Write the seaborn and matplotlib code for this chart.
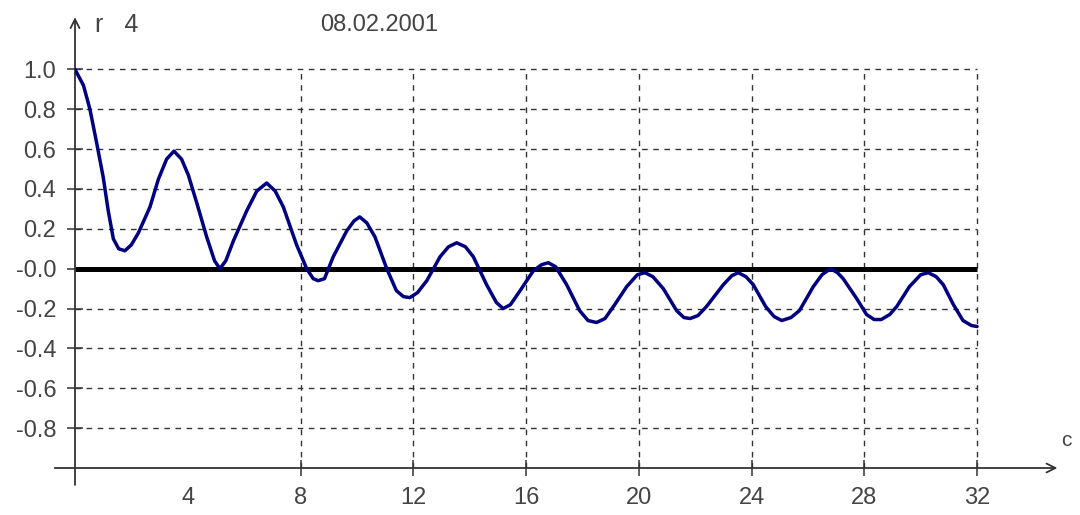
import matplotlib
matplotlib.use("Agg")
import matplotlib.pyplot as plt
import seaborn as sns
import pandas as pd

# Autocorrelation curve r(c)
lag = [0, 0.3, 0.53, 0.77, 1.0, 1.18, 1.36, 1.55, 1.77, 2.0, 2.25, 2.66, 2.96, 3.25,
       3.51, 3.78, 4.02, 4.32, 4.67, 4.95, 5.14, 5.35, 5.62, 6.09, 6.45, 6.8, 7.1,
       7.39, 7.86, 8.22, 8.45, 8.63, 8.85, 9.16, 9.64, 9.9, 10.1, 10.35, 10.64, 11.06,
       11.4, 11.65, 11.88, 12.15, 12.48, 12.95, 13.25, 13.54, 13.85, 14.13, 14.6,
       14.95, 15.19, 15.45, 15.79, 16.26, 16.55, 16.79, 17.05, 17.44, 17.9, 18.2,
       18.5, 18.8, 19.1, 19.57, 19.95, 20.22, 20.5, 20.87, 21.34, 21.6, 21.82, 22.1,
       22.4, 23.0, 23.3, 23.53, 23.8, 24.06, 24.5, 24.8, 25.07, 25.4, 25.7, 26.19,
       26.5, 26.8, 27.05, 27.25, 27.73, 28.08, 28.35, 28.6, 28.9, 29.15, 29.6, 30.0,
       30.27, 30.55, 30.8, 31.16, 31.5, 31.8, 32.0]
r_values = [1.00, 0.92, 0.80, 0.63, 0.46, 0.29, 0.15, 0.10, 0.09, 0.12, 0.18, 0.31,
            0.45, 0.55, 0.59, 0.55, 0.47, 0.33, 0.16, 0.04, 0.00, 0.04, 0.14, 0.29,
            0.39, 0.43, 0.39, 0.31, 0.12, 0.00, -0.05, -0.06, -0.05, 0.06, 0.19, 0.24,
            0.26, 0.23, 0.16, 0.00, -0.11, -0.14, -0.145, -0.12, -0.06, 0.06, 0.11,
            0.13, 0.11, 0.06, -0.08, -0.17, -0.20, -0.18, -0.11, -0.01, 0.02, 0.03,
            0.01, -0.08, -0.21, -0.26, -0.27, -0.25, -0.19, -0.09, -0.03, -0.02,
            -0.04, -0.10, -0.21, -0.245, -0.25, -0.235, -0.19, -0.08, -0.035, -0.02,
            -0.04, -0.08, -0.19, -0.24, -0.26, -0.245, -0.21, -0.09, -0.03, 0.00,
            -0.02, -0.05, -0.15, -0.23, -0.255, -0.255, -0.23, -0.19, -0.09, -0.03,
            -0.02, -0.04, -0.08, -0.18, -0.26, -0.285, -0.29]

x_ticks = [4, 8, 12, 16, 20, 24, 28, 32]
x_tick_labels = ["4", "8", "12", "16", "20", "24", "28", "32"]
y_ticks = [1.0, 0.8, 0.6, 0.4, 0.2, 0.0, -0.2, -0.4, -0.6, -0.8]
y_tick_labels = ["1.0", "0.8", "0.6", "0.4", "0.2", "-0.0", "-0.2", "-0.4", "-0.6", "-0.8"]
grid_x = [8, 12, 16, 20, 24, 28, 32]
title_left = "r   4"
title_date = "08.02.2001"
x_name = "c"

sns.set_theme(style="white")
plt.rcParams["font.family"] = ["Liberation Sans Narrow", "Liberation Sans", "DejaVu Sans"]

text_col = "#444444"
fig = plt.figure(figsize=(10.8, 5.15), dpi=100)
ax = fig.add_axes([75 / 1080, 47 / 515, 981 / 1080, 450 / 515])
ax.set_xlim(0, 34.8)
ax.set_ylim(-1.0, 1.258)
for s in ax.spines.values():
    s.set_visible(False)

# dashed grid
dash = (0, (4, 4))
ax.hlines([v for v in y_ticks if v != 0.0], 0, 32, colors="#333333",
          linestyles=dash, linewidth=1.0, zorder=1)
ax.vlines(grid_x, -1.0, 1.0, colors="#333333", linestyles=dash,
          linewidth=1.0, zorder=1)

# zero line
ax.hlines(0.0, 0, 32, colors="black", linewidth=3.6, zorder=2)

# axes with arrows
ax.annotate("", xy=(34.85, -1.0), xytext=(-0.72, -1.0), xycoords="data",
            arrowprops=dict(arrowstyle="->", color="#333333", lw=1.3,
                            mutation_scale=16, shrinkA=0, shrinkB=0),
            annotation_clip=False, zorder=3)
ax.annotate("", xy=(0, 1.262), xytext=(0, -1.085), xycoords="data",
            arrowprops=dict(arrowstyle="->", color="#333333", lw=1.3,
                            mutation_scale=16, shrinkA=0, shrinkB=0),
            annotation_clip=False, zorder=3)

df = pd.DataFrame({"lag": lag, "r": r_values})
sns.lineplot(data=df, x="lag", y="r", ax=ax, color="#000080", linewidth=2.5,
             zorder=4, sort=False)
ax.set_xlabel("")
ax.set_ylabel("")

ax.set_xticks(x_ticks)
ax.set_xticklabels(x_tick_labels)
ax.set_yticks(y_ticks)
ax.set_yticklabels(y_tick_labels)
ax.tick_params(axis="both", direction="inout", length=11, width=1.1,
               color="#333333", labelsize=17, labelcolor=text_col,
               bottom=True, left=True)
ax.tick_params(axis="x", pad=8)
ax.tick_params(axis="y", pad=8)
ax.xaxis.get_major_ticks()[0].tick1line.set_visible(False)

fig.text(95 / 1080, 1 - 25 / 515, title_left, fontsize=18, color=text_col,
         ha="left", va="center")
fig.text(320 / 1080, 1 - 25 / 515, title_date, fontsize=17, color=text_col,
         ha="left", va="center")
fig.text(1066 / 1080, 1 - 440 / 515, x_name, fontsize=15, color=text_col,
         ha="center", va="center")

fig.savefig("out.png", dpi=100)
